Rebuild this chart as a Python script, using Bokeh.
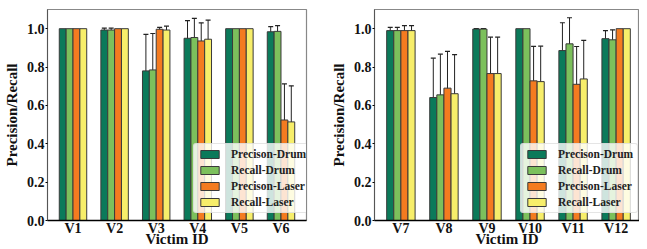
from bokeh.plotting import figure
from bokeh.models import (ColumnDataSource, Whisker, TeeHead, FixedTicker, Legend,
                          LegendItem, Range1d, PrintfTickFormatter)
from bokeh.transform import dodge
from bokeh.layouts import row
from bokeh.embed import file_html
from bokeh.resources import INLINE

series_names = ["Precison-Drum", "Recall-Drum", "Precison-Laser", "Recall-Laser"]
series_colors = ["#0b7a5a", "#7cc05c", "#f47b20", "#f7ee6a"]

victims_left = ["V1", "V2", "V3", "V4", "V5", "V6"]
prec_drum_left = [1.0, 0.993, 0.78, 0.95, 1.0, 0.984]
prec_drum_left_err = [0.0, 0.01, 0.19, 0.092, 0.0, 0.027]
recall_drum_left = [1.0, 0.993, 0.785, 0.954, 1.0, 0.986]
recall_drum_left_err = [0.0, 0.01, 0.19, 0.1, 0.0, 0.03]
prec_laser_left = [1.0, 1.0, 0.997, 0.936, 1.0, 0.524]
prec_laser_left_err = [0.0, 0.0, 0.01, 0.094, 0.0, 0.188]
recall_laser_left = [1.0, 1.0, 0.993, 0.945, 1.0, 0.514]
recall_laser_left_err = [0.0, 0.0, 0.02, 0.1, 0.0, 0.188]

victims_right = ["V7", "V8", "V9", "V10", "V11", "V12"]
prec_drum_right = [0.99, 0.641, 0.998, 1.0, 0.886, 0.948]
prec_drum_right_err = [0.017, 0.205, 0.003, 0.0, 0.145, 0.042]
recall_drum_right = [0.99, 0.655, 0.998, 1.0, 0.921, 0.942]
recall_drum_right_err = [0.017, 0.212, 0.003, 0.0, 0.136, 0.052]
prec_laser_right = [0.99, 0.69, 0.766, 0.728, 0.71, 1.0]
prec_laser_right_err = [0.026, 0.192, 0.19, 0.18, 0.197, 0.0]
recall_laser_right = [0.99, 0.661, 0.766, 0.724, 0.738, 1.0]
recall_laser_right_err = [0.026, 0.204, 0.19, 0.185, 0.201, 0.0]

y_ticks = [0.0, 0.2, 0.4, 0.6, 0.8, 1.0]
x_title = "Victim ID"
y_title = "Precision/Recall"

BAR_W = 0.165
FONT = "Liberation Serif"


def make_panel(victims, values, errors, width, border_left, border_right, x_end):
    idx = list(range(len(victims)))
    p = figure(width=width, height=249, output_backend="svg", toolbar_location=None,
               x_range=Range1d(-0.613, x_end), y_range=Range1d(0, 1.1),
               min_border_left=border_left, min_border_right=border_right,
               min_border_top=9, min_border_bottom=27)
    p.background_fill_color = "white"
    p.border_fill_color = "white"
    p.outline_line_color = "#888888"
    p.outline_line_width = 1.2
    p.xgrid.visible = False
    p.ygrid.visible = False

    offsets = [-1.5 * BAR_W, -0.5 * BAR_W, 0.5 * BAR_W, 1.5 * BAR_W]
    items = []
    for name, color, vals, errs, off in zip(series_names, series_colors, values, errors, offsets):
        src = ColumnDataSource(dict(x=idx, top=vals))
        r = p.vbar(x=dodge("x", off), top="top", width=BAR_W, source=src,
                   fill_color=color, line_color="#3a3a3a", line_width=1)
        items.append(LegendItem(label=name, renderers=[r]))
    for vals, errs, off in zip(values, errors, offsets):
        xs = [i for i, e in zip(idx, errs) if e > 0]
        up = [v + e for v, e in zip(vals, errs) if e > 0]
        lo = [v - e for v, e in zip(vals, errs) if e > 0]
        wsrc = ColumnDataSource(dict(x=xs, upper=up, lower=lo))
        w = Whisker(base=dodge("x", off), upper="upper", lower="lower", source=wsrc,
                    line_color="#222222", line_width=1,
                    upper_head=TeeHead(size=5, line_color="#222222", line_width=1.2),
                    lower_head=TeeHead(size=5, line_color="#222222", line_width=1.2))
        p.add_layout(w)

    xa = p.xaxis[0]
    xa.ticker = FixedTicker(ticks=idx)
    xa.major_label_overrides = {i: v for i, v in zip(idx, victims)}
    xa.major_tick_line_color = None
    xa.minor_tick_line_color = None
    xa.major_tick_out = 0
    xa.minor_tick_out = 0
    xa.major_label_standoff = 0
    xa.axis_line_color = "black"
    xa.axis_line_width = 1.5
    xa.axis_label = x_title
    xa.axis_label_standoff = -8
    xa.major_label_text_font = FONT
    xa.major_label_text_font_style = "bold"
    xa.major_label_text_font_size = "14px"
    xa.major_label_text_line_height = 1.0
    xa.major_label_text_color = "#111111"
    xa.axis_label_text_font = FONT
    xa.axis_label_text_font_style = "bold"
    xa.axis_label_text_font_size = "15px"
    xa.axis_label_text_line_height = 0.5
    xa.axis_label_text_color = "#111111"

    ya = p.yaxis[0]
    ya.ticker = FixedTicker(ticks=y_ticks)
    ya.formatter = PrintfTickFormatter(format="%.1f")
    ya.minor_tick_line_color = None
    ya.major_tick_out = 2
    ya.major_tick_in = 0
    ya.major_label_standoff = 1
    ya.axis_line_color = "#555555"
    ya.axis_label = y_title
    ya.axis_label_standoff = 4
    ya.major_label_text_font = FONT
    ya.major_label_text_font_style = "bold"
    ya.major_label_text_font_size = "14px"
    ya.major_label_text_color = "#111111"
    ya.axis_label_text_font = FONT
    ya.axis_label_text_font_style = "bold"
    ya.axis_label_text_font_size = "15px"
    ya.axis_label_text_color = "#111111"

    legend = Legend(items=items, location=(146, 7), orientation="vertical",
                    glyph_width=23, glyph_height=10, label_height=12, label_width=10,
                    label_standoff=10, spacing=4, padding=4, margin=0,
                    label_text_font=FONT, label_text_font_style="bold",
                    label_text_font_size="11.5px", label_text_color="#222222",
                    background_fill_color="white", background_fill_alpha=0.8,
                    border_line_color="#cccccc", border_line_width=1,
                    border_radius=3)
    p.add_layout(legend)
    return p


p1 = make_panel(victims_left,
                [prec_drum_left, recall_drum_left, prec_laser_left, recall_laser_left],
                [prec_drum_left_err, recall_drum_left_err, prec_laser_left_err, recall_laser_left_err],
                316, 38, 10, 5.613)
p2 = make_panel(victims_right,
                [prec_drum_right, recall_drum_right, prec_laser_right, recall_laser_right],
                [prec_drum_right_err, recall_drum_right_err, prec_laser_right_err, recall_laser_right_err],
                323, 58, 0, 5.543)

layout = row(p1, p2)
open("out.html", "w").write(file_html(layout, INLINE))
